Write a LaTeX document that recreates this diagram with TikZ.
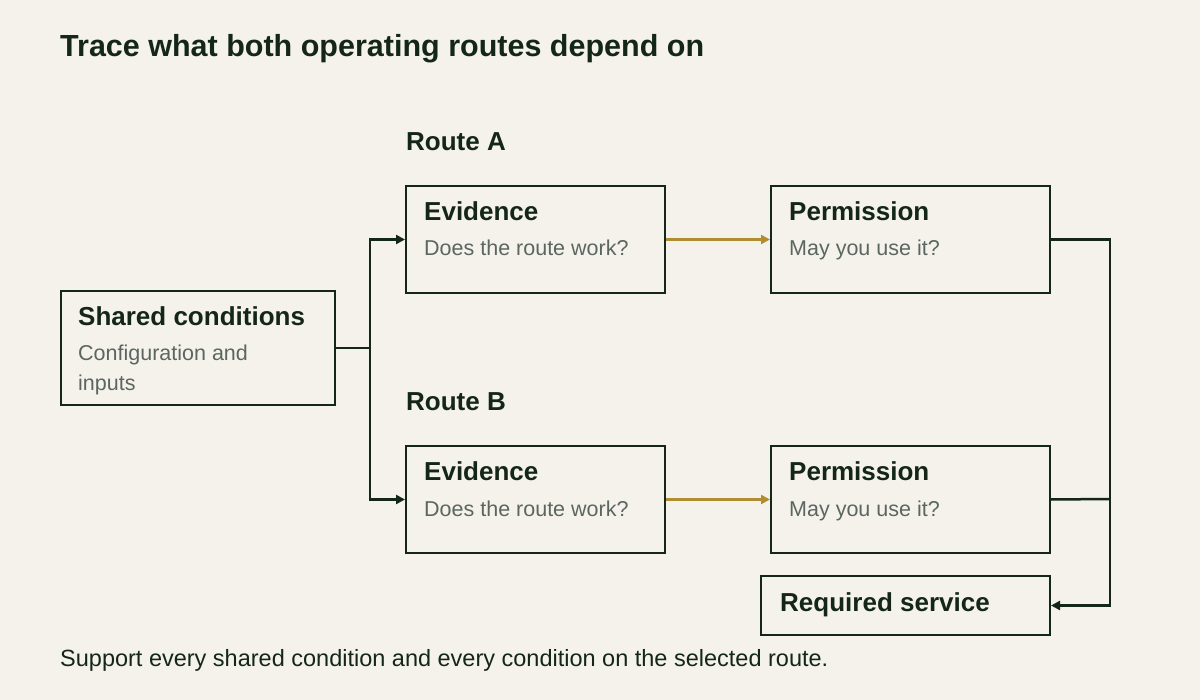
\documentclass[tikz,border=0pt]{standalone}
\usepackage{fontspec}
\setmainfont{Liberation Sans}
\usetikzlibrary{arrows.meta, positioning}
\definecolor{paper}{HTML}{F5F2EB}
\definecolor{ink}{HTML}{14261A}
\definecolor{muted}{HTML}{5B6660}
\definecolor{gold}{HTML}{B08D30}

\begin{document}
\begin{tikzpicture}[x=1pt, y=-1pt,
    box/.style={rectangle, draw=ink, line width=2pt, minimum width=#1, inner sep=0pt},
    head/.style={anchor=base west, inner sep=0pt, text=ink, font=\fontsize{26}{30}\selectfont\bfseries},
    sub/.style={anchor=base west, inner sep=0pt, text=muted, align=left, font=\fontsize{21.5}{30}\selectfont},
    arrow/.style={-{Triangle[length=9pt, width=9pt]}, line width=2.5pt, draw=ink},
    gold arrow/.style={arrow, draw=gold}
]
\fill[paper] (0,0) rectangle (1200,700);
\useasboundingbox (0,0) rectangle (1200,700);

\node[anchor=base west, inner sep=0pt, text=ink, font=\fontsize{30.5}{34}\selectfont\bfseries] (title) at (60,57) {Trace what both operating routes depend on};

% boxes
\node[box=274pt, minimum height=114pt] (shared) at (198,348) {};
\node[box=259pt, minimum height=107pt] (evA) at (535.5,239.5) {};
\node[box=279pt, minimum height=107pt] (permA) at (910.5,239.5) {};
\node[box=259pt, minimum height=107pt] (evB) at (535.5,499.5) {};
\node[box=279pt, minimum height=107pt] (permB) at (910.5,499.5) {};
\node[box=289pt, minimum height=59pt] (service) at (905.5,605.5) {};

% texts
\node[head] (sharedHead) at (78,326) {Shared conditions};
\node[sub] (sharedSub) at (78,391) {Configuration and\\inputs};
\node[head] (routeA) at (406,151) {Route A};
\node[head] (evAHead) at (424,221) {Evidence};
\node[sub] (evASub) at (424,256) {Does the route work?};
\node[head] (permAHead) at (789,221) {Permission};
\node[sub] (permASub) at (789,256) {May you use it?};
\node[head] (routeB) at (406,411) {Route B};
\node[head] (evBHead) at (424,481) {Evidence};
\node[sub] (evBSub) at (424,516) {Does the route work?};
\node[head] (permBHead) at (789,481) {Permission};
\node[sub] (permBSub) at (789,516) {May you use it?};
\node[head] (serviceHead) at (780,611) {Required service};
\node[anchor=base west, inner sep=0pt, text=ink, font=\fontsize{23.5}{27}\selectfont] (caption) at (60,666) {Support every shared condition and every condition on the selected route.};

% connectors
\coordinate (split) at (370,348);
\coordinate (join) at (1110,499);
\draw[line width=2.5pt, draw=ink] (shared.east) -- (split);
\draw[arrow] (split) |- (evA.west);
\draw[arrow] (split) |- (evB.west);
\draw[gold arrow] (evA) -- (permA);
\draw[gold arrow] (evB) -- (permB);
\draw[line width=2.5pt, draw=ink] (permA.east) -| (join);
\draw[line width=2.5pt, draw=ink] (permB.east) -- (join);
\draw[arrow] (join) |- (service.east);
\end{tikzpicture}
\end{document}
